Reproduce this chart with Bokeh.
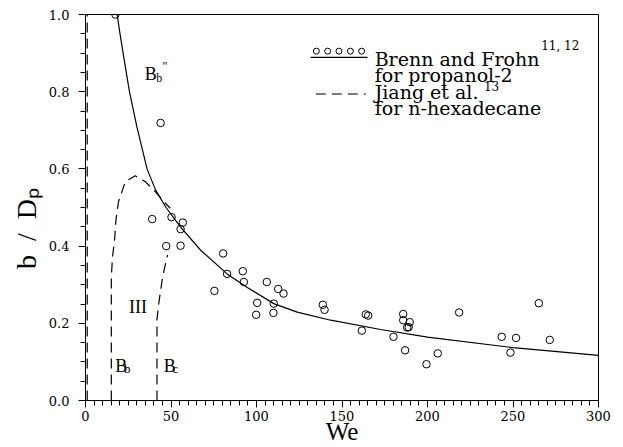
from bokeh.plotting import figure
from bokeh.models import SingleIntervalTicker, PrintfTickFormatter, Range1d
from bokeh.core.properties import value
from bokeh.embed import file_html
from bokeh.resources import INLINE

# ---- data ----
brenn_we = [17.5, 43.9, 39.0, 50.3, 56.9, 55.6, 47.2, 55.6, 80.5, 82.8, 75.4, 92.0, 92.6,
            100.4, 99.8, 106.0, 112.7, 115.8, 110.1, 109.9, 138.8, 139.8, 163.9, 165.3,
            161.6, 180.1, 185.8, 185.8, 189.6, 188.1, 189.0, 186.9, 199.4, 206.0, 218.5,
            243.4, 251.8, 248.5, 265.1, 271.5]
brenn_b = [1.0, 0.719, 0.470, 0.475, 0.461, 0.444, 0.400, 0.401, 0.381, 0.328, 0.284, 0.335,
           0.307, 0.253, 0.222, 0.307, 0.289, 0.277, 0.251, 0.227, 0.248, 0.235, 0.223,
           0.220, 0.181, 0.165, 0.224, 0.208, 0.203, 0.189, 0.190, 0.130, 0.094, 0.122,
           0.228, 0.165, 0.162, 0.124, 0.252, 0.157]

curve_we = [18.5, 20.0, 22.0, 25.7, 30.0, 36.0, 41.0, 47.1, 55.5, 63.3, 67.2, 82.8, 94.6,
            110.1, 123.8, 143.4, 172.6, 200.0, 250.0, 300.0]
curve_b = [1.0, 0.955, 0.900, 0.800, 0.710, 0.600, 0.545, 0.500, 0.450, 0.410, 0.390, 0.328,
           0.293, 0.251, 0.229, 0.208, 0.184, 0.164, 0.137, 0.117]

jiang_a_we = [1.0, 1.0]
jiang_a_b = [0.0, 1.0]
jiang_b_we = [15.1, 15.1, 15.8, 17.0, 17.8, 19.3, 23.3, 29.1, 35.0, 40.8, 46.7, 49.6]
jiang_b_b = [0.0, 0.320, 0.372, 0.416, 0.468, 0.515, 0.567, 0.582, 0.567, 0.541, 0.511, 0.498]
jiang_c_we = [41.8, 41.8, 42.8, 45.1, 47.1, 48.0]
jiang_c_b = [0.0, 0.21, 0.25, 0.32, 0.36, 0.377]

x_ticks_interval = 50
y_ticks_interval = 0.2

legend_lines = ["Brenn and Frohn", "for propanol-2", "Jiang et al.", "for n-hexadecane"]
legend_sups = ["11, 12", "13"]

SERIF = "Liberation Serif"
LEGF = "DejaVu Serif"

p = figure(width=623, height=447, x_range=Range1d(0, 300), y_range=Range1d(0, 1.0),
           output_backend="svg", toolbar_location=None,
           min_border_left=85, min_border_right=25, min_border_top=14, min_border_bottom=46)
p.grid.visible = False
p.outline_line_color = "black"
p.outline_line_width = 1
p.background_fill_color = "white"
p.border_fill_color = "white"

xa = p.xaxis[0]
xa.ticker = SingleIntervalTicker(interval=x_ticks_interval, num_minor_ticks=10)
xa.formatter = PrintfTickFormatter(format="%d")
ya = p.yaxis[0]
ya.ticker = SingleIntervalTicker(interval=y_ticks_interval, num_minor_ticks=4)
ya.formatter = PrintfTickFormatter(format="%.1f")
for ax in (xa, ya):
    ax.major_tick_in = 0
    ax.minor_tick_in = 0
    ax.major_tick_out = 7
    ax.minor_tick_out = 5
    ax.axis_line_color = "black"
    ax.major_tick_line_color = "black"
    ax.minor_tick_line_color = "black"
    ax.major_label_text_font = "DejaVu Serif"
    ax.major_label_text_font_size = "13px"
    ax.major_label_text_color = "black"
    ax.axis_label_text_font = SERIF
    ax.axis_label_text_font_style = "normal"
    ax.axis_label_text_color = "black"
xa.major_label_standoff = 3
xa.axis_label = "We"
xa.axis_label_text_font_size = "25px"
xa.axis_label_standoff = -6
ya.major_label_standoff = 9
ya.axis_label = "b\u00a0\u00a0/\u00a0\u00a0D\u209a" + "\u00a0" * 6
ya.axis_label_text_font_size = "28px"
ya.axis_label_standoff = 4

# data
p.line(curve_we, curve_b, line_color="black", line_width=1.2)
p.line(jiang_a_we, jiang_a_b, line_color="black", line_width=1.2, line_dash="10 6")
p.line(jiang_b_we, jiang_b_b, line_color="black", line_width=1.2, line_dash="10 6")
p.line(jiang_c_we, jiang_c_b, line_color="black", line_width=1.2, line_dash="10 6")
p.scatter(brenn_we, brenn_b, marker="circle", size=7.5, fill_color=None,
          line_color="black", line_width=1)

# region labels
def txt(x, y, s, size, font=SERIF, align="left"):
    p.text(x=[x], y=[y], text=[s], text_font=value(font), text_font_size=size,
           text_baseline="alphabetic", text_align=align, text_color="black",
           y_offset=-6)

txt(34.6, 0.831, "B", "18px")
txt(41.4, 0.821, "b", "12px")
txt(45.0, 0.850, "\"", "12px")
txt(30.7, 0.226, "III", "18px", align="center")
txt(17.4, 0.0735, "B", "18px")
txt(22.5, 0.068, "b", "13px")
txt(45.7, 0.0735, "B", "18px")
txt(50.8, 0.068, "c", "13px")

# legend
leg_x = [135.0, 141.6, 148.2, 154.9, 161.5]
p.scatter(leg_x, [0.905] * 5, marker="circle", size=6, fill_color=None,
          line_color="black", line_width=1)
p.line([131.6, 164.9], [0.889, 0.889], line_color="black", line_width=1.2)
p.line([134.7, 163.9], [0.794, 0.794], line_color="black", line_width=1.2, line_dash="10 6")
for s, yy in zip(legend_lines, [0.870, 0.827, 0.784, 0.741]):
    txt(169.1, yy, s, "19px", font=LEGF)
txt(266.5, 0.904, legend_sups[0], "12px", font=LEGF)
txt(233.0, 0.800, legend_sups[1], "12px", font=LEGF)

open("out.html", "w").write(file_html(p, INLINE))
